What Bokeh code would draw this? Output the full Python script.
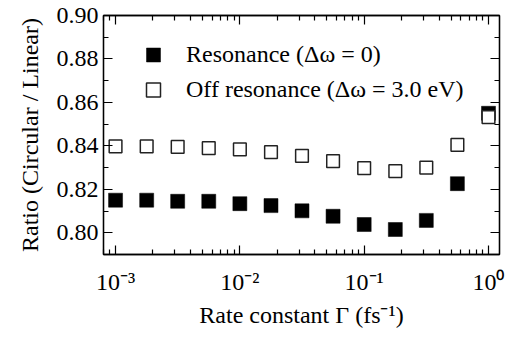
from bokeh.plotting import figure
from bokeh.models import (Range1d, LinearAxis, LogAxis, FixedTicker,
                          CustomJSTickFormatter, Legend, LegendItem)
from bokeh.embed import file_html
from bokeh.resources import INLINE

# ---- data ----
rate = [0.001, 0.00178, 0.00316, 0.00562, 0.01, 0.0178, 0.0316, 0.0562,
        0.1, 0.178, 0.316, 0.562, 1.0]
resonance = [0.8150, 0.8150, 0.8145, 0.8145, 0.8134, 0.8125, 0.8101, 0.8076,
             0.8038, 0.8015, 0.8057, 0.8226, 0.8550]
off_resonance = [0.8398, 0.8398, 0.8395, 0.8390, 0.8384, 0.8371, 0.8354, 0.8330,
                 0.8298, 0.8284, 0.8300, 0.8405, 0.8532]
series_labels = ["Resonance (Δω = 0)", "Off resonance (Δω = 3.0 eV)"]
x_tick_values = [0.001, 0.01, 0.1, 1.0]
x_tick_labels = ["10⁻³", "10⁻²", "10⁻¹", "10⁰"]
y_tick_values = [0.80, 0.82, 0.84, 0.86, 0.88, 0.90]
y_minor_values = [0.79, 0.81, 0.83, 0.85, 0.87, 0.89]
y_tick_labels = ["0.80", "0.82", "0.84", "0.86", "0.88", "0.90"]
x_label = "Rate constant Γ (fs⁻¹)"
y_label = "Ratio (Circular / Linear)"

FONT = "'Liberation Serif', 'Times New Roman', serif"
FS = "24px"

x_minor = [m * 10.0 ** e for e in range(-4, 1) for m in range(2, 10)]

p = figure(width=507, height=341, x_axis_type="log",
           x_range=Range1d(8.0e-4, 1.226), y_range=Range1d(0.790, 0.900),
           output_backend="svg", toolbar_location=None,
           min_border_left=103, min_border_right=8,
           min_border_top=15, min_border_bottom=87)
p.xgrid.visible = False
p.ygrid.visible = False
p.outline_line_color = "black"
p.outline_line_width = 1.3
p.background_fill_color = "white"
p.border_fill_color = "white"

xticker = FixedTicker(ticks=x_tick_values, minor_ticks=x_minor)
yticker = FixedTicker(ticks=y_tick_values, minor_ticks=y_minor_values)
blank = CustomJSTickFormatter(code="return ''")


def style(ax):
    ax.axis_line_color = "black"
    ax.axis_line_width = 1.3
    ax.major_tick_line_color = "black"
    ax.minor_tick_line_color = "black"
    ax.major_tick_line_width = 1.2
    ax.minor_tick_line_width = 1.2
    ax.major_tick_in = 9
    ax.major_tick_out = 0
    ax.minor_tick_in = 5
    ax.minor_tick_out = 0
    ax.major_label_text_font = FONT
    ax.major_label_text_font_size = FS
    ax.major_label_text_color = "black"
    ax.axis_label_text_font = FONT
    ax.axis_label_text_font_size = FS
    ax.axis_label_text_font_style = "normal"
    ax.axis_label_text_color = "black"


xa = p.xaxis[0]
xa.ticker = xticker
xa.formatter = CustomJSTickFormatter(args=dict(labels=x_tick_labels),
                                     code="return labels[index]")
style(xa)
xa.major_label_standoff = 14
xa.axis_label = x_label
xa.axis_label_standoff = 4

ya = p.yaxis[0]
ya.ticker = yticker
ya.formatter = CustomJSTickFormatter(args=dict(labels=y_tick_labels),
                                     code="return labels[index]")
style(ya)
ya.major_label_standoff = 5
ya.axis_label = y_label
ya.axis_label_standoff = 11

top = LogAxis(ticker=xticker, formatter=blank)
style(top)
top.major_label_standoff = 0
top.major_label_text_font_size = "0px"
p.add_layout(top, "above")

right = LinearAxis(ticker=yticker, formatter=blank)
style(right)
right.major_label_standoff = 0
right.major_label_text_font_size = "0px"
p.add_layout(right, "right")

r1 = p.scatter(rate, resonance, marker="square", size=14,
               fill_color="black", line_color="black", line_width=0.5)
r2 = p.scatter(rate, off_resonance, marker="square", size=12.7,
               fill_color="white", line_color="#222222", line_width=1.5)

legend = Legend(items=[LegendItem(label=series_labels[0], renderers=[r1]),
                       LegendItem(label=series_labels[1], renderers=[r2])],
                location=(32, 147), glyph_width=36, glyph_height=35,
                label_standoff=15, spacing=0, padding=0, margin=0,
                border_line_color=None, background_fill_alpha=0,
                label_text_font=FONT, label_text_font_size=FS,
                label_text_color="black")
p.add_layout(legend)

open("out.html", "w").write(file_html(p, INLINE))
